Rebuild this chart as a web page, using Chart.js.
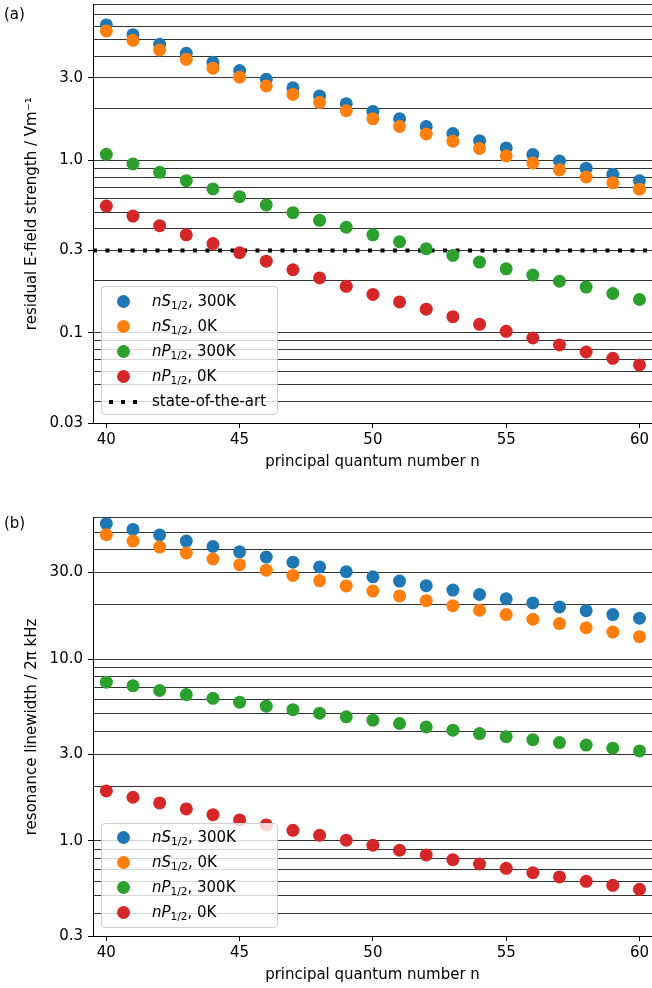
<!DOCTYPE html>
<html><head><meta charset="utf-8">
<script src="https://cdn.jsdelivr.net/npm/chart.js@4/dist/chart.umd.min.js"></script>
<style>
html,body{margin:0;padding:0;background:#fff;}
body{width:652px;height:988px;overflow:hidden;position:relative;font-family:'DejaVu Sans',sans-serif;color:#000;}
canvas{position:absolute;left:0;}
.panel{position:absolute;left:4px;font-size:15px;line-height:18px;}
.legend{position:absolute;left:101px;width:177px;border:1px solid #cfcfcf;border-radius:4px;background:rgba(255,255,255,0.8);box-sizing:border-box;font-size:15px;}
.row{position:absolute;left:0;width:100%;height:25px;line-height:25px;}
.dot{position:absolute;left:15px;top:6px;width:13px;height:13px;border-radius:50%;}
.lbl{position:absolute;left:50px;top:0;white-space:nowrap;}
.lbl sub{font-size:10.5px;line-height:0;vertical-align:-3px;}
.sq{position:absolute;top:10.5px;width:4px;height:4px;background:#000;}
</style>
</head><body>
<canvas id="c1" width="652" height="471" style="top:0px"></canvas>
<canvas id="c2" width="652" height="471" style="top:513px"></canvas>
<div class="panel" style="top:5px">(a)</div>
<div class="panel" style="top:514px">(b)</div>

<div class="legend" style="top:286px;height:129px">
  <div class="row" style="top:2px"><span class="dot" style="background:#1f77b4"></span><span class="lbl"><i>nS</i><sub>1/2</sub>, 300K</span></div>
  <div class="row" style="top:27px"><span class="dot" style="background:#ff7f0e"></span><span class="lbl"><i>nS</i><sub>1/2</sub>, 0K</span></div>
  <div class="row" style="top:52px"><span class="dot" style="background:#2ca02c"></span><span class="lbl"><i>nP</i><sub>1/2</sub>, 300K</span></div>
  <div class="row" style="top:77px"><span class="dot" style="background:#d62728"></span><span class="lbl"><i>nP</i><sub>1/2</sub>, 0K</span></div>
  <div class="row" style="top:102px"><span class="sq" style="left:7px"></span><span class="sq" style="left:19px"></span><span class="sq" style="left:31px"></span><span class="lbl">state-of-the-art</span></div>
</div>
<div class="legend" style="top:823px;height:105px">
  <div class="row" style="top:1px"><span class="dot" style="background:#1f77b4"></span><span class="lbl"><i>nS</i><sub>1/2</sub>, 300K</span></div>
  <div class="row" style="top:26px"><span class="dot" style="background:#ff7f0e"></span><span class="lbl"><i>nS</i><sub>1/2</sub>, 0K</span></div>
  <div class="row" style="top:51px"><span class="dot" style="background:#2ca02c"></span><span class="lbl"><i>nP</i><sub>1/2</sub>, 300K</span></div>
  <div class="row" style="top:76px"><span class="dot" style="background:#d62728"></span><span class="lbl"><i>nP</i><sub>1/2</sub>, 0K</span></div>
</div>

<script>
// ---- data ----
const nValues = [40,41,42,43,44,45,46,47,48,49,50,51,52,53,54,55,56,57,58,59,60];

// (a) residual E-field strength / V m^-1
const fieldS300 = [6.09,5.35,4.70,4.17,3.70,3.31,2.95,2.63,2.36,2.13,1.92,1.74,1.57,1.43,1.30,1.18,1.08,0.99,0.90,0.83,0.76];
const fieldS0   = [5.62,4.96,4.36,3.85,3.42,3.03,2.70,2.41,2.16,1.94,1.74,1.57,1.42,1.29,1.17,1.06,0.965,0.88,0.80,0.74,0.68];
const fieldP300 = [1.083,0.952,0.852,0.762,0.682,0.615,0.551,0.497,0.449,0.409,0.370,0.337,0.307,0.281,0.257,0.235,0.216,0.199,0.184,0.169,0.156];
const fieldP0   = [0.543,0.475,0.418,0.370,0.329,0.291,0.260,0.232,0.208,0.186,0.167,0.151,0.137,0.124,0.112,0.102,0.0933,0.0850,0.0774,0.0711,0.0651];
const stateOfTheArt = 0.3;

// (b) resonance linewidth / 2pi kHz
const widthS300 = [55.7,51.8,48.3,44.7,41.7,39.0,36.5,34.2,32.2,30.3,28.4,26.9,25.4,24.0,22.7,21.5,20.4,19.4,18.5,17.6,16.8];
const widthS0   = [48.4,44.7,41.4,38.4,35.6,33.1,30.9,28.9,27.0,25.3,23.7,22.3,21.0,19.7,18.6,17.6,16.6,15.7,14.9,14.1,13.3];
const widthP300 = [7.48,7.14,6.73,6.39,6.09,5.80,5.52,5.28,5.05,4.82,4.62,4.43,4.24,4.07,3.90,3.75,3.61,3.48,3.37,3.24,3.13];
const widthP0   = [1.885,1.740,1.619,1.500,1.396,1.305,1.225,1.145,1.075,1.009,0.947,0.889,0.837,0.789,0.747,0.707,0.669,0.634,0.600,0.570,0.542];

// ticks
const xTicks = [40,45,50,55,60];
const topYLabels = [0.03,0.1,0.3,1,3];
const bottomYLabels = [0.3,1,3,10,30];
const topGrid = [0.03,0.04,0.05,0.06,0.07,0.08,0.09,0.1,0.2,0.3,0.4,0.5,0.6,0.7,0.8,0.9,1,2,3,4,5,6,7,8];
const bottomGrid = [0.3,0.4,0.5,0.6,0.7,0.8,0.9,1,2,3,4,5,6,7,8,9,10,20,30,40,50,60];

const colors = ['#1f77b4','#ff7f0e','#2ca02c','#d62728'];
const FONT = {family:"'DejaVu Sans', sans-serif", size:15};
const X_MIN = 39.5, X_MAX = 60.47;

function isLabelled(v, labels){ return labels.some(l => Math.abs(v/l - 1) < 1e-6); }
function fmt(v){ return v < 1 ? String(v) : v.toFixed(1); }

function makeChart(id, series, yMin, yMax, grid, labels, yTitle, padTop, refLine){
  const datasets = series.map((vals, k) => ({
    type:'scatter',
    data: nValues.map((n,i)=>({x:n, y:vals[i]})),
    backgroundColor: colors[k],
    borderWidth:0,
    pointRadius:6.5,
    pointHoverRadius:6.5,
    pointBorderWidth:0,
    order: 4 - k
  }));
  if (refLine !== undefined) {
    datasets.push({
      type:'line',
      data:[{x:X_MIN,y:refLine},{x:X_MAX,y:refLine}],
      borderColor:'#000', borderWidth:4, borderDash:[4,8.5], borderCapStyle:'butt',
      pointRadius:0, showLine:true, fill:false, order:10
    });
  }
  return new Chart(document.getElementById(id), {
    type:'scatter',
    data:{datasets},
    options:{
      responsive:false, animation:false, devicePixelRatio:1,
      layout:{autoPadding:false, padding:{left:0,right:0,top:padTop,bottom:0}},
      plugins:{legend:{display:false}, tooltip:{enabled:false}},
      scales:{
        x:{
          type:'linear', min:X_MIN, max:X_MAX,
          afterBuildTicks: s => { s.ticks = xTicks.map(v=>({value:v})); },
          afterFit: s => { s.height = 48; s.paddingLeft = 0; s.paddingRight = 0; },
          grid:{drawOnChartArea:false, tickLength:5, tickColor:'#000', tickWidth:1},
          border:{color:'#000', width:1},
          ticks:{padding:3, color:'#000', font:FONT, maxRotation:0, autoSkip:false},
          title:{display:true, text:'principal quantum number n', color:'#000', font:FONT, padding:{top:0,bottom:0}}
        },
        y:{
          type:'logarithmic', min:yMin, max:yMax,
          afterBuildTicks: s => { s.ticks = grid.map(v=>({value:v})); },
          afterFit: s => { s.width = 93; s.paddingTop = 0; s.paddingBottom = 0; },
          grid:{color:'rgba(0,0,0,0.8)', lineWidth:1, tickLength:5,
                tickColor: c => (c.tick && isLabelled(c.tick.value, labels)) ? '#000' : 'rgba(0,0,0,0)'},
          border:{color:'#000', width:1},
          ticks:{autoSkip:false, padding:5, color:'#000', font:FONT,
                 callback: v => isLabelled(v, labels) ? fmt(v) : ''},
          title:{display:true, text:yTitle, color:'#000', font:FONT, padding:{top:23,bottom:0}}
        }
      }
    }
  });
}

makeChart('c1', [fieldS300, fieldS0, fieldP300, fieldP0], 0.03, 8, topGrid, topYLabels,
          'residual E-field strength / Vm\u207B\u00B9', 4.5, stateOfTheArt);
makeChart('c2', [widthS300, widthS0, widthP300, widthP0], 0.3, 60, bottomGrid, bottomYLabels,
          'resonance linewidth / 2\u03C0 kHz', 4.8);
</script>
</body></html>
